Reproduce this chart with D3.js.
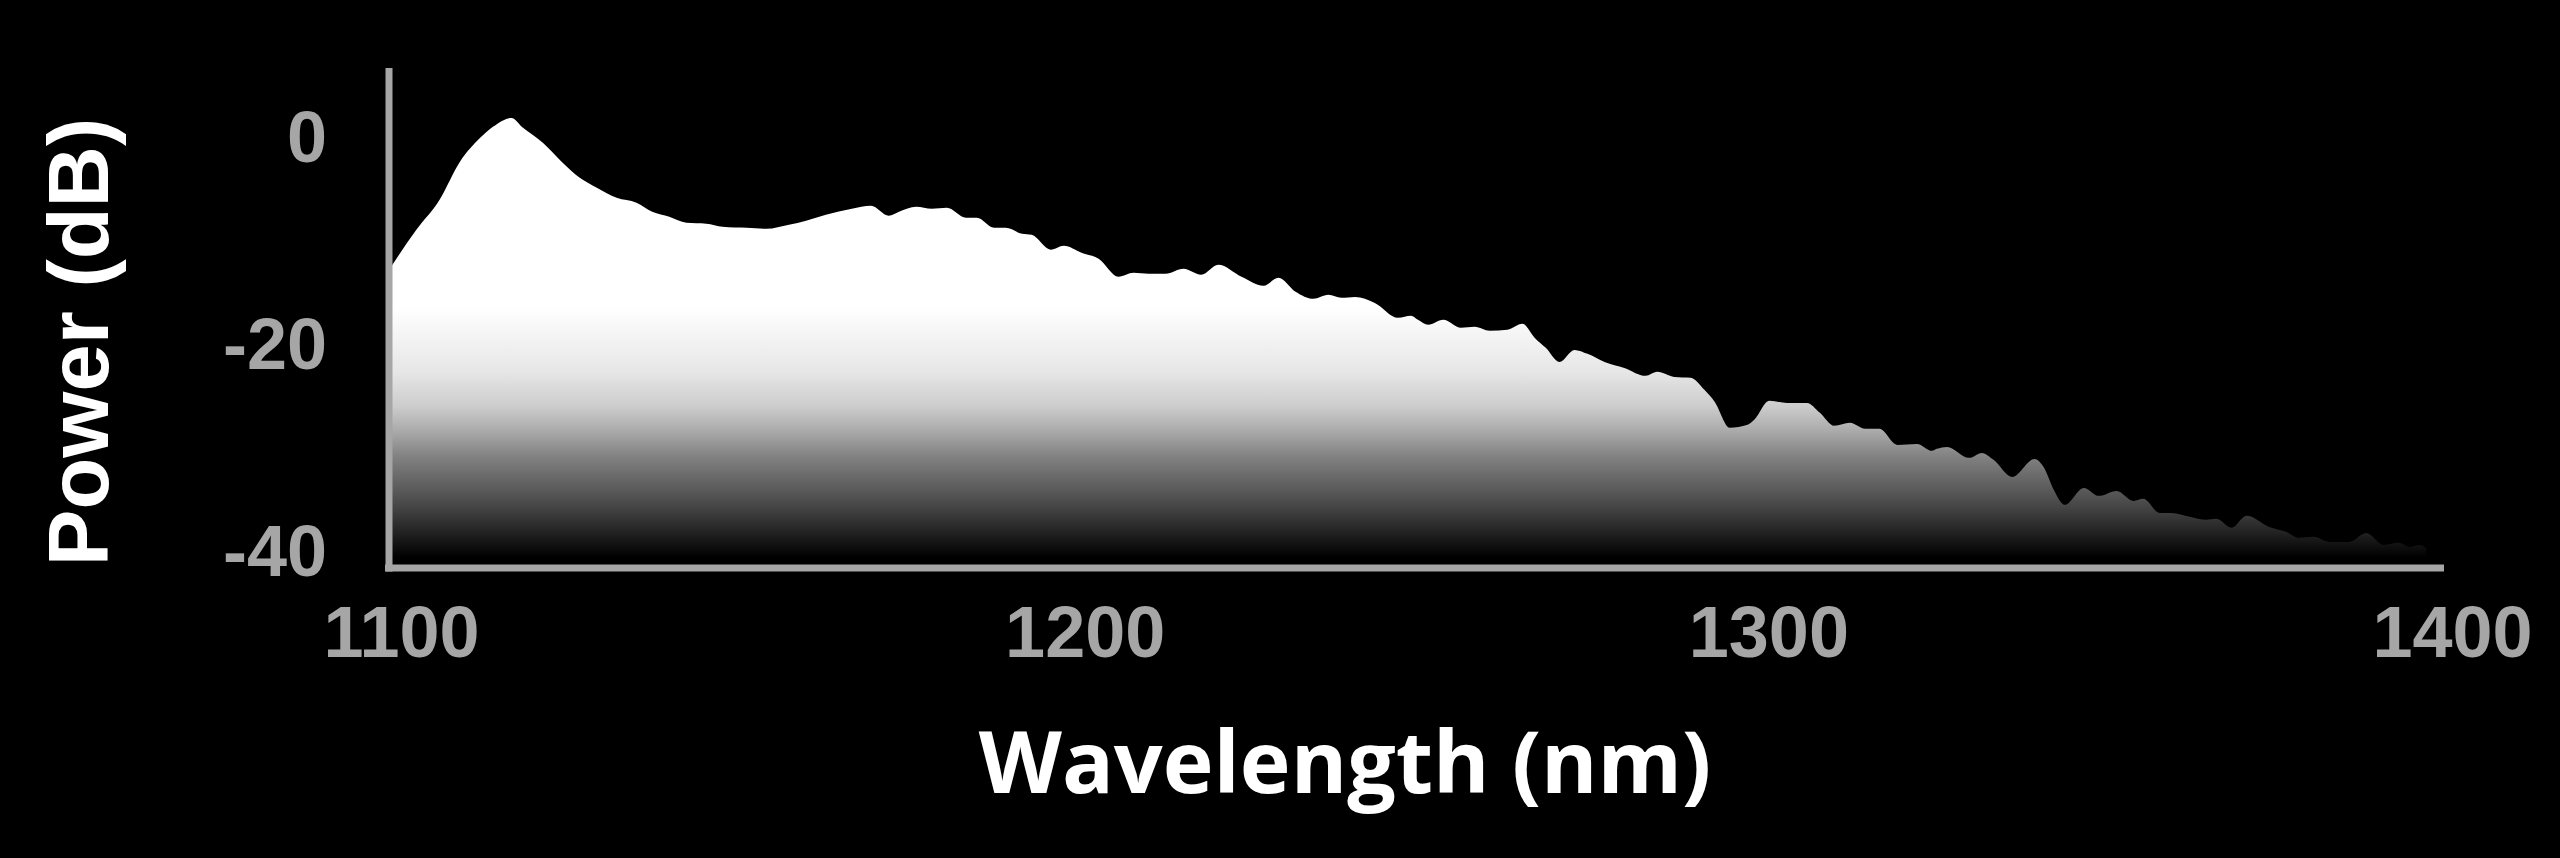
<!DOCTYPE html>
<html>
<head>
<meta charset="utf-8">
<script src="https://cdn.jsdelivr.net/npm/d3@7"></script>
<style>
  html, body { margin: 0; padding: 0; background: #000; }
  svg { display: block; }
</style>
</head>
<body>
<script>
// ---- data ----
const wavelength = [1100,1104,1107.4,1110.4,1113.3,1115.2,1117.9,1119.6,1122.5,1125.4,1127.9,1130.4,1133.3,1136.2,1138.5,1141,1143.5,1146.4,1148.8,1152.3,1155.2,1158.5,1161,1163.9,1167.7,1170.5,1173.1,1174.6,
  1177.1,1179.4,1181.6,1184.4,1186,1188.5,1190.2,1192.6,1194,1196.8,1198.7,1201.3,1203.8,1206.7,1208.9,1211.1,1213.6,1216.2,1218.8,1221.3,1224.7,1227.9,1230.1,1232.6,1235.2,1237.4,1239.3,1241.3,1244.2,1247.6,1249.5,
  1250.5,1252,1254.2,1256.8,1258.8,1261,1263.6,1265.8,1267.6,1269.2,1271.2,1273.4,1275.3,1277.8,1280.7,1283.8,1285.5,1288,1290.4,1292.4,1293.9,1296.1,1298.7,1299.7,1301.9,1304.5,1307.4,1309.3,1311.4,1313.7,1315.9,1318,1320.6,1323.5,1325.7,
  1326.4,1327.9,1331.1,1333,1334.7,1337.4,1340.7,1342,1343.5,1345.1,1347.9,1350.1,1352.7,1355.2,1356.6,1359,1360.7,1363.4,1365.8,1367.3,1369.5,1371.7,1375,1377.5,1379.3,1381.5,1383.8,1386.7,1389.2,1391.8,1394,1395.5,1397,1398];
const powerDb = [-12.95,-9.08,-6.18,-2.48,-0.22,0.87,1.71,0.77,-0.68,-2.61,-4.06,-5.02,-5.99,-6.47,-7.34,-7.83,-8.41,-8.5,-8.79,-8.89,-8.99,-8.6,-8.21,-7.63,-7.05,-6.76,-7.73,-7.34,
  -6.86,-7.05,-6.96,-7.92,-7.92,-8.89,-8.89,-9.47,-9.57,-11.01,-10.63,-11.3,-11.88,-13.62,-13.24,-13.33,-13.33,-12.85,-13.43,-12.46,-13.62,-14.49,-13.72,-15.07,-15.75,-15.36,-15.65,-15.56,-16.14,-17.58,-17.39,
  -17.78,-18.26,-17.78,-18.55,-18.45,-18.84,-18.74,-18.16,-19.52,-20.48,-21.84,-20.68,-21.06,-21.84,-22.42,-23.19,-22.8,-23.29,-23.38,-24.54,-25.7,-28.21,-27.92,-27.44,-25.6,-25.8,-25.8,-26.76,-28.02,-27.73,-28.31,-28.31,-29.86,-29.76,-30.43,
  -30.24,-30.05,-31.11,-30.63,-31.3,-32.95,-31.21,-31.98,-34.2,-35.65,-34.01,-34.78,-34.3,-35.27,-35.07,-36.43,-36.43,-36.81,-37.1,-37,-37.87,-36.71,-37.78,-38.26,-38.84,-38.74,-39.23,-39.23,-38.36,-39.52,-39.32,-39.71,-39.52,-39.81];
const xTicks = [1100, 1200, 1300, 1400];
const yTicks = [0, -20, -40];
const xTitle = "Wavelength (nm)";
const yTitle = "Power (dB)";

// ---- layout ----
const W = 2560, H = 858;
const axisColor = "#a6a6a6";
const tickFont = "'Liberation Sans', Arial, Helvetica, sans-serif";
const plainFormat = d => String(d);   // hyphen-minus like the reference

const svg = d3.select("body").append("svg").attr("width", W).attr("height", H)
  .style("background", "#000");

const x = d3.scaleLinear().domain([1100, 1400]).range([389, 2440]);
const y = d3.scaleLinear().domain([-41.75, 6.55]).range([568, 68]);

// gradient fill (absolute / user space)
const defs = svg.append("defs");
const grad = defs.append("linearGradient").attr("id", "fillGrad")
  .attr("gradientUnits", "userSpaceOnUse")
  .attr("x1", 0).attr("x2", 0).attr("y1", 300).attr("y2", 560);
[[0.03, "#ffffff"], [0.28, "#e6e6e6"], [0.41, "#cccccc"], [0.51, "#a8a8a8"], [0.60, "#828282"],
 [0.73, "#5a5a5a"], [0.81, "#404040"], [0.90, "#202020"], [0.99, "#000000"]]
  .forEach(([o, c]) => grad.append("stop").attr("offset", o).attr("stop-color", c));

const data = wavelength.map((w, i) => ({ w, p: powerDb[i] }));

const area = d3.area()
  .x(d => x(d.w))
  .y0(y(-41.75))
  .y1(d => y(d.p))
  .curve(d3.curveMonotoneX);

svg.append("path").datum(data)
  .attr("d", area)
  .attr("fill", "url(#fillGrad)");

// axes
const xAxis = d3.axisBottom(x).tickValues(xTicks).tickSize(0).tickPadding(0).tickFormat(plainFormat);
const gx = svg.append("g").attr("transform", `translate(0, ${y(-41.75)})`).call(xAxis);
gx.select(".domain").remove();
gx.selectAll("text")
  .attr("fill", axisColor)
  .attr("font-family", tickFont)
  .attr("font-weight", "bold")
  .attr("font-size", 72)
  .attr("dy", null)
  .attr("y", 89)
  .attr("dx", 12);

const yAxis = d3.axisLeft(y).tickValues(yTicks).tickSize(0).tickPadding(0).tickFormat(plainFormat);
const gy = svg.append("g").attr("transform", `translate(${x(1100)}, 0)`).call(yAxis);
gy.select(".domain").remove();
gy.selectAll("text")
  .attr("fill", axisColor)
  .attr("font-family", tickFont)
  .attr("font-weight", "bold")
  .attr("font-size", 72)
  .attr("x", -62)
  .attr("dy", "0.36em");

// axis lines
svg.append("line")
  .attr("x1", x(1100) - 4).attr("x2", 2444)
  .attr("y1", y(-41.75)).attr("y2", y(-41.75))
  .attr("stroke", axisColor).attr("stroke-width", 7);
svg.append("line")
  .attr("x1", x(1100)).attr("x2", x(1100))
  .attr("y1", y(6.55)).attr("y2", y(-41.75) + 3.5)
  .attr("stroke", axisColor).attr("stroke-width", 7);

// titles
svg.append("text")
  .attr("x", 1345).attr("y", 793)
  .attr("text-anchor", "middle")
  .attr("fill", "#ffffff")
  .attr("font-family", "'Open Sans', 'Noto Sans', sans-serif")
  .attr("font-weight", "bold")
  .attr("font-size", 86)
  .text(xTitle);

svg.append("text")
  .attr("transform", "translate(108, 342) rotate(-90)")
  .attr("text-anchor", "middle")
  .attr("fill", "#ffffff")
  .attr("font-family", tickFont)
  .attr("font-weight", "bold")
  .attr("font-size", 85)
  .text(yTitle);
</script>
</body>
</html>
